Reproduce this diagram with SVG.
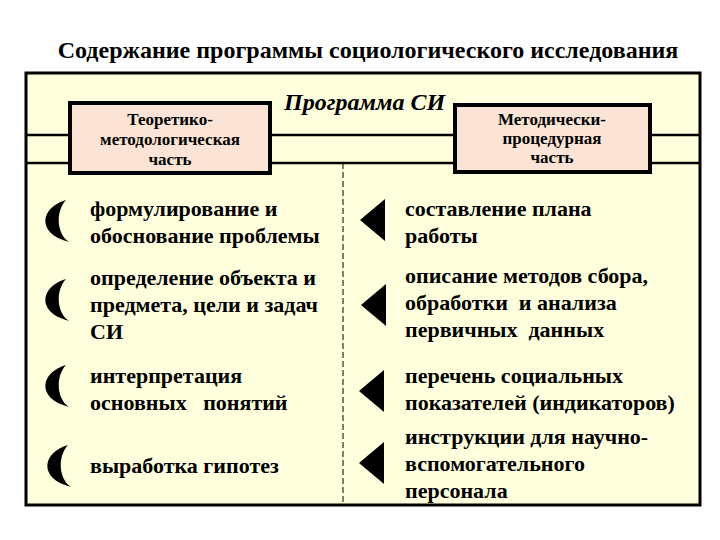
<svg xmlns="http://www.w3.org/2000/svg" width="720" height="540" viewBox="0 0 720 540">
<style>
text{font-weight:bold;fill:#000}
.t{font-size:22px}
.b{font-size:17px;text-anchor:middle}
.box{fill:#FBE4D5;stroke:#000;stroke-width:4}
</style>
<defs>
<path id="cr" d="M12,-21 C-13,-14 -19,12 15,21 C3,13 1,-9 12,-21 Z" fill="#000"/>
<polygon id="tr" points="0,0 25,-21 25,21" fill="#000"/>
</defs>
<rect width="720" height="540" fill="#fff"/>
<g font-family="Liberation Serif, Times New Roman, serif">
<text x="368" y="58" text-anchor="middle" font-size="24">Содержание программы социологического исследования</text>
<rect id="frame" x="26" y="73" width="674" height="432" fill="#FFFFDE" stroke="#000" stroke-width="3"/>
<g id="connectors" stroke="#000">
<line x1="26" y1="135" x2="700" y2="135" stroke-width="2.5"/>
<line x1="26" y1="163" x2="700" y2="163" stroke-width="2.5"/>
<line x1="343" y1="163" x2="343" y2="505" stroke-width="1" stroke-dasharray="6,3"/>
</g>
<g id="left-head">
<rect class="box" x="70" y="103" width="200" height="70"/>
<text class="b" x="170" y="125">Теоретико-</text>
<text class="b" x="170" y="145">методологическая</text>
<text class="b" x="170" y="165">часть</text>
</g>
<g id="title-si">
<text x="284" y="110" font-size="24" font-style="italic">Программа СИ</text>
</g>
<g id="right-head">
<rect class="box" x="455" y="105" width="195" height="67"/>
<text class="b" x="552" y="125">Методически-</text>
<text class="b" x="552" y="144">процедурная</text>
<text class="b" x="552" y="163">часть</text>
</g>
<g id="l1"><use href="#cr" x="54" y="221"/>
<text class="t" x="90" y="216">формулирование и</text>
<text class="t" x="90" y="243">обоснование проблемы</text></g>
<g id="l2"><use href="#cr" x="54" y="300"/>
<text class="t" x="90" y="285">определение объекта и</text>
<text class="t" x="90" y="312">предмета, цели и задач</text>
<text class="t" x="90" y="339">СИ</text></g>
<g id="l3"><use href="#cr" x="54" y="386"/>
<text class="t" x="90" y="383">интерпретация</text>
<text class="t" x="90" y="410" xml:space="preserve">основных   понятий</text></g>
<g id="l4"><use href="#cr" x="56" y="466"/>
<text class="t" x="90" y="473">выработка гипотез</text></g>
<g id="r1"><use href="#tr" x="360" y="220"/>
<text class="t" x="405" y="216">составление плана</text>
<text class="t" x="405" y="243">работы</text></g>
<g id="r2"><use href="#tr" x="361" y="305"/>
<text class="t" x="405" y="283">описание методов сбора,</text>
<text class="t" x="405" y="310" xml:space="preserve">обработки  и анализа</text>
<text class="t" x="405" y="337" xml:space="preserve">первичных  данных</text></g>
<g id="r3"><use href="#tr" x="359" y="391"/>
<text class="t" x="405" y="383">перечень социальных</text>
<text class="t" x="405" y="410">показателей (индикаторов)</text></g>
<g id="r4"><use href="#tr" x="359" y="463"/>
<text class="t" x="405" y="444">инструкции для научно-</text>
<text class="t" x="405" y="471">вспомогательного</text>
<text class="t" x="405" y="498">персонала</text></g>
</g>
</svg>
